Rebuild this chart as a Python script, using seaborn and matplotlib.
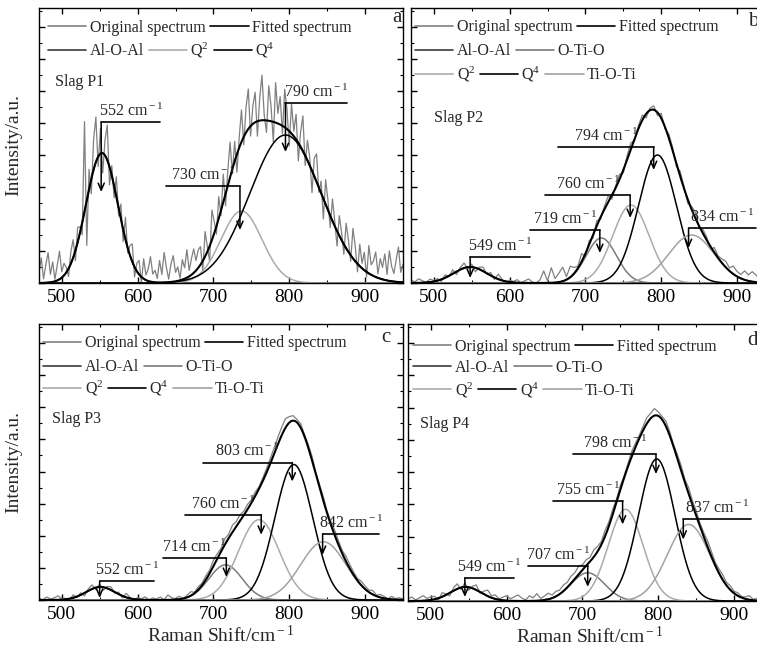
import numpy as np
import pandas as pd
import matplotlib
matplotlib.use('Agg')
import matplotlib.pyplot as plt
import seaborn as sns
from matplotlib.lines import Line2D
from matplotlib.legend import Legend
from matplotlib.ticker import MultipleLocator

# Gaussian fit parameters: centre (cm-1), height (a.u.), sigma (cm-1)
names_a = ['Al-O-Al', 'Q2', 'Q4']
centres_a = [553, 737, 795]
heights_a = [130, 72, 148]
sigmas_a = [21, 27, 47]

names_b = ['Al-O-Al', 'O-Ti-O', 'Q2', 'Q4', 'Ti-O-Ti']
centres_b = [548, 721, 760, 795, 840]
heights_b = [16, 45, 78, 128, 48]
sigmas_b = [22, 20, 24, 25, 30]

names_c = ['Al-O-Al', 'O-Ti-O', 'Q2', 'Q4', 'Ti-O-Ti']
centres_c = [551, 716, 760, 806, 845]
heights_c = [13, 35, 80, 135, 58]
sigmas_c = [19, 22, 27, 25, 30]

names_d = ['Al-O-Al', 'O-Ti-O', 'Q2', 'Q4', 'Ti-O-Ti']
centres_d = [546, 707, 757, 798, 840]
heights_d = [14, 28, 91, 141, 76]
sigmas_d = [20, 22, 23, 24, 28]

# original spectrum = fit + residual noise read by eye (panel a every 3 cm-1, others every 5 cm-1, from 470)
resid_a = [10, 25, 4, 18, 30, 8, 20, 2, 15, 28, 6, 12,
           5, -8, 12, 18, -10, 15, 6, -12, 90,
           -45, 20, -15, 30, 45, -10, 25, -20, 15, 35, -18, 10, -12, 20, -8,
           15, -12, 22, -5, 10, 18, -10, 8, 14, -6, 20, 5, 12, 25, 8,
           12, 4, 22, 8, 30, 15, 3, 18, 26, 9, 14, 2, 20, 11, 28, 6, 16, 24, 10, 18,
           18, -10, 25, 5, -15, 30, 12, -8, 22, -5,
           28, -12, 15, 35, -5, 20, -18, 10, 32, -8,
           25, 40, -10, 18, 30, -15, 22, 45, 5, -12,
           35, 15, -20, 40, 10, 28, -8, 38, 20, -15,
           30, 5, 25, -18, 15, 35, -10, 20, 8, -22,
           18, 28, -5, 12, -20, 25, 10, -12, 22, 5,
           -15, 20, 8, -10, 25, 12, -6, 30, 15, -8,
           22, 5, 18, -5, 28, 10, 15, 25, 4, 20,
           12, 26, 6, 30, 15, 8, 22, 35, 10, 18]
resid_b = [3, 1, 4, 2, 0, 3, 1,
           2, -2, 3, -1, 4, -3, 2, 5, -2, 3, -4, 2, 4, -1, 3, -2, 5, 1, -3, 2,
           1, 3, 0, 2, 4, 1, 0, 3, 12, 2, 15, 4, 9, 14, 3, 11, 6, 2, 8, -3,
           4, -3, 5, -2, 3, 6, -4, 2, 5, -3, 4, 6, -2, 3, 5, -4, 2, 4, -3, 5,
           -2, 4, 3, -3, 5, 2, -4, 3, 6, -2, 4, 3, -3, 5, 2, 4, 6, 3, 8, 5,
           4, 9, 6, 10, 7, 3, 8, 5, 2, 6]
resid_c = [2, 0, 3, 1, 2, 4, 1,
           1, -2, 3, -1, 2, -3, 2, 4, -2, 3, -3, 2, 3, -1, 2, -2, 4, 1, -2, 2,
           1, 3, 0, 2, 1, 3, 0, 5, 2, 1, 3, 0, 2, 4, 1, 3, 2, 4, 3, 6,
           5, 3, 6, 4, 7, 5, 6, 4, 5, 3, 4, 2, 3, 4, 5, 6, 7, 8, 9, 6,
           5, 3, 4, 2, 3, 4, 2, 3, 4, 2, 3, 5, 4, 3, 5, 4, 3, 2, 4, 3,
           2, 4, 1, 3, 2, 0, 3, 1, 2, 1]
resid_d = [2, 4, 1, 3, 5, 2, 3,
           3, -2, 4, 1, -3, 3, 5, -2, 4, -3, 2, 5, -1, 3, 6, 2, 4, 1, 3, 5,
           2, 4, 6, 3, 1, 5, 3, 7, 2, 4, 6, 3, 5, 4, 6, 5, 7, 6, 8, 5,
           6, 4, 7, 5, 3, 6, 4, 5, 3, 4, 2, 3, 5, 4, 3, 4, 6, 5, 7, 4,
           3, 5, 4, 2, 4, 5, 3, 6, 4, 5, 3, 4, 6, 5, 3, 4, 5, 3, 4, 2,
           3, 1, 2, 4, 1, 2, 0, 3, 1, 2]

# peak annotations: label, arrow x, bar height, arrow tip height, bar end x
ann_val_a = [552, 730, 790]
ann_x_a = [552, 735, 795]
ann_y_a = [161, 97, 180]
ann_tip_a = [91, 53, 131]
ann_end_a = [630, 637, 876]

ann_val_b = [549, 719, 760, 794, 834]
ann_x_b = [548, 719, 759, 790, 836]
ann_y_b = [26, 53, 88, 136, 55]
ann_tip_b = [5, 30, 65, 113, 35]
ann_end_b = [627, 627, 647, 664, 925]

ann_val_c = [552, 714, 760, 803, 842]
ann_x_c = [550, 717, 763, 804, 844]
ann_y_c = [19, 42, 85, 137, 66]
ann_tip_c = [2, 23, 65, 118, 45]
ann_end_c = [622, 633, 662, 686, 918]

ann_val_d = [549, 707, 755, 798, 837]
ann_x_d = [545, 707, 753, 797, 833]
ann_y_d = [23, 35, 99, 146, 81]
ann_tip_d = [4, 14, 76, 126, 61]
ann_end_d = [610, 628, 661, 688, 922]

ORIG = '#808080'
COLORS = {'Al-O-Al': '#3c3c3c', 'O-Ti-O': '#7c7c7c', 'Q2': '#ababab',
          'Q4': '#000000', 'Ti-O-Ti': '#a2a2a2'}
LABELS = {'Al-O-Al': 'Al-O-Al', 'O-Ti-O': 'O-Ti-O', 'Q2': 'Q$^{2}$',
          'Q4': 'Q$^{4}$', 'Ti-O-Ti': 'Ti-O-Ti'}
CM = r' cm$^{\rm -1}$'

sns.set_style('ticks')
plt.rcParams['font.family'] = ['Liberation Serif', 'DejaVu Serif']
plt.rcParams['mathtext.fontset'] = 'custom'
plt.rcParams['mathtext.rm'] = 'Liberation Serif'
plt.rcParams['mathtext.it'] = 'Liberation Serif:italic'
plt.rcParams['mathtext.bf'] = 'Liberation Serif:bold'
plt.rcParams['axes.edgecolor'] = 'black'
plt.rcParams['axes.linewidth'] = 1.0


def gauss(x, c, h, s):
    return h * np.exp(-(x - c) ** 2 / (2.0 * s ** 2))


def draw_panel(ax, names, centres, heights, sigmas, resid, step,
               vals, xs_ann, ys_ann, tips, ends, slag, slag_pos, letter, letter_pos,
               rows, row_x, row_y):
    xs = np.linspace(470, 950, 961)
    ox = 470 + step * np.arange(len(resid))
    comps = {}
    orig = np.array(resid, dtype=float)
    for n, c, h, s in zip(names, centres, heights, sigmas):
        comps[n] = gauss(xs, c, h, s)
        orig = orig + gauss(ox, c, h, s)
    fit = sum(comps.values())

    df = pd.DataFrame({'shift': ox, 'intensity': orig})
    sns.lineplot(data=df, x='shift', y='intensity', color=ORIG, lw=0.9,
                 estimator=None, sort=False, ax=ax)
    for n in names:
        sns.lineplot(x=xs, y=comps[n], color=COLORS[n], lw=1.1, estimator=None, ax=ax)
    sns.lineplot(x=xs, y=fit, color='black', lw=1.5, estimator=None, ax=ax)

    for v, x, y, t, e in zip(vals, xs_ann, ys_ann, tips, ends):
        ax.plot([x, e], [y, y], color='black', lw=1.2)
        ax.annotate('', xy=(x, t), xytext=(x, y),
                    arrowprops=dict(arrowstyle='->,head_length=0.5,head_width=0.22',
                                    color='black', lw=1.1, shrinkA=0, shrinkB=0))
        ax.text((x + e) / 2.0, y + 6, f'{v}' + CM, ha='center', va='baseline', fontsize=11.5)

    ax.text(slag_pos[0], slag_pos[1], slag, ha='left', va='center', fontsize=11.5)
    ax.text(letter_pos[0], letter_pos[1], letter, ha='right', va='top',
            fontsize=15, transform=ax.transAxes)

    for i, row in enumerate(rows):
        handles = [Line2D([], [], color=(ORIG if n == 'orig' else ('black' if n == 'fit' else COLORS[n])), lw=1.2)
                   for n in row]
        texts = [('Original spectrum' if n == 'orig' else ('Fitted spectrum' if n == 'fit' else LABELS[n]))
                 for n in row]
        leg = Legend(ax, handles, texts, loc='center left', bbox_to_anchor=(row_x, row_y[i]),
                     ncol=len(row), frameon=False, fontsize=11.5, handlelength=2.4,
                     handletextpad=0.2, columnspacing=0.3, borderpad=0, borderaxespad=0)
        ax.add_artist(leg)

    ax.set_xlim(470, 950)
    ax.set_ylim(0, 275)
    ax.xaxis.set_major_locator(MultipleLocator(100))
    ax.xaxis.set_minor_locator(MultipleLocator(50))
    ax.yaxis.set_major_locator(MultipleLocator(32))
    ax.yaxis.set_minor_locator(MultipleLocator(16))
    ax.set_yticklabels([])
    ax.tick_params(which='both', direction='in', top=True, right=True, colors='black')
    ax.tick_params(which='major', length=4, width=1, labelsize=14, pad=4)
    ax.tick_params(which='minor', length=2.5, width=0.8)
    ax.set_xlabel('')
    ax.set_ylabel('')


W, H = 757, 657
fig = plt.figure(figsize=(W / 100, H / 100), dpi=100)
ax_a = fig.add_axes([39 / W, (H - 283) / H, 364 / W, 275 / H])
ax_b = fig.add_axes([411 / W, (H - 283) / H, 364 / W, 275 / H])
ax_c = fig.add_axes([39 / W, (H - 600) / H, 364 / W, 276 / H])
ax_d = fig.add_axes([408 / W, (H - 601) / H, 364 / W, 277 / H])

rows_a = [['orig', 'fit'], ['Al-O-Al', 'Q2', 'Q4']]
rows_bcd = [['orig', 'fit'], ['Al-O-Al', 'O-Ti-O'], ['Q2', 'Q4', 'Ti-O-Ti']]

draw_panel(ax_a, names_a, centres_a, heights_a, sigmas_a, resid_a, 3,
           ann_val_a, ann_x_a, ann_y_a, ann_tip_a, ann_end_a,
           'Slag P1', (491, 201), 'a', (0.997, 1.0), rows_a, 0.025, [0.927, 0.847])
draw_panel(ax_b, names_b, centres_b, heights_b, sigmas_b, resid_b, 5,
           ann_val_b, ann_x_b, ann_y_b, ann_tip_b, ann_end_b,
           'Slag P2', (500, 165), 'b', (0.953, 0.985), rows_bcd, 0.011, [0.93, 0.843, 0.759])
draw_panel(ax_c, names_c, centres_c, heights_c, sigmas_c, resid_c, 5,
           ann_val_c, ann_x_c, ann_y_c, ann_tip_c, ann_end_c,
           'Slag P3', (487, 180), 'c', (0.967, 0.985), rows_bcd, 0.011, [0.93, 0.843, 0.768])
draw_panel(ax_d, names_d, centres_d, heights_d, sigmas_d, resid_d, 5,
           ann_val_d, ann_x_d, ann_y_d, ann_tip_d, ann_end_d,
           'Slag P4', (486, 176), 'd', (0.96, 0.975), rows_bcd, 0.014, [0.918, 0.841, 0.762])

for ax in (ax_a, ax_c):
    ax.set_ylabel('Intensity/a.u.', fontsize=14, labelpad=8)
for ax in (ax_c, ax_d):
    ax.set_xlabel('Raman Shift/cm$^{\\rm -1}$', fontsize=14, labelpad=2)

fig.savefig('out.png', dpi=100)
